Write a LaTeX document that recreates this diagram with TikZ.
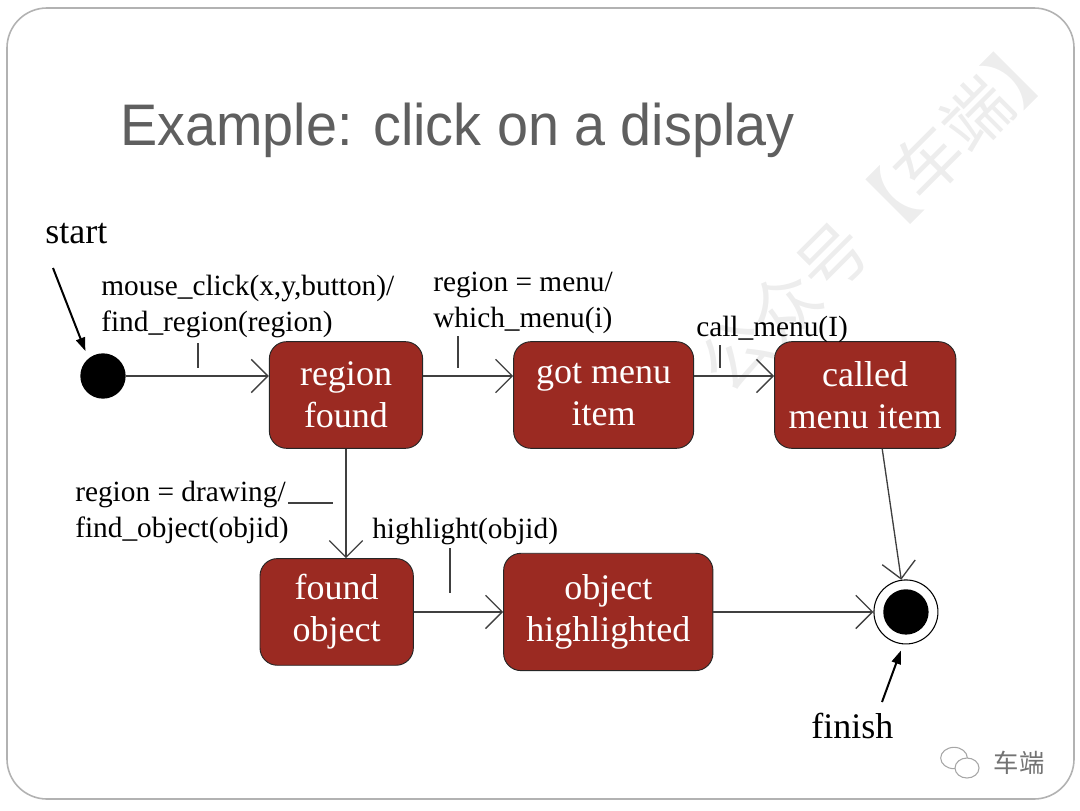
\documentclass[tikz,border=0pt]{standalone}
\usepackage{fontspec}
\setmainfont{Liberation Serif}
\newfontfamily\titlefont[FakeStretch=0.95]{Liberation Sans}
\newfontfamily\cjkfont{Noto Sans CJK SC}
\usetikzlibrary{positioning,arrows.meta}

\definecolor{statered}{HTML}{9B2A22}
\definecolor{titlegray}{HTML}{5F5F5F}
\definecolor{linegray}{HTML}{404040}

\tikzset{
  state/.style={draw=black!85, fill=statered, text=white, rounded corners=13pt,
    minimum height=80pt, inner sep=2pt, align=center, line width=0.7pt,
    font=\fontsize{27}{31.5}\selectfont},
  init/.style={circle, fill=black, minimum size=34pt, inner sep=0pt},
  final/.style={circle, draw=black, fill=white, line width=0.8pt, minimum size=48pt, inner sep=0pt,
    path picture={\fill[black] (path picture bounding box.center) circle (17pt);}},
  trans/.style={draw=linegray, line width=1pt, -{Straight Barb[length=12.5pt,width=25pt]}},
  guard/.style={anchor=base west, align=left, inner sep=0pt, font=\fontsize{22}{27}\selectfont},
  tick/.style={draw=linegray, line width=1pt},
  pointer/.style={draw=black, line width=1.5pt, -{Triangle[length=10pt,width=7pt]}},
  big/.style={anchor=base west, inner sep=0pt, font=\fontsize{27}{27}\selectfont}
}

\begin{document}
\begin{tikzpicture}[x=0.75pt,y=-0.75pt]
\useasboundingbox (0,0) rectangle (1080,810);
\draw[black!30, line width=1.2pt, rounded corners=30pt] (7,8) rectangle (1074,799);
\node[rotate=45, text=black!7, font=\cjkfont\fontsize{51}{51}\selectfont] (wmark) at (880,210) {公众号【车端】};
\node[font=\titlefont\fontsize{44}{44}\selectfont, text=titlegray, anchor=base west, inner sep=0pt] (title) at (120,145) {Example: click on a display};

% states
\node[init] (init) at (103,376) {};
\node[state, minimum width=115pt] (rf) at (346,395) {region\\found};
\node[state, minimum width=135pt, right=67.5pt of rf] (gmi) {got menu\\item};
\node[state, minimum width=136pt, right=60pt of gmi] (cmi) {called\\menu item};
\node[state, minimum width=115pt, below=82pt of rf, xshift=-7pt] (fo) {found\\object};
\node[state, minimum width=157pt, minimum height=88pt, right=67pt of fo] (oh) {object\\highlighted};
\node[final, right=120pt of oh] (fin) {};

% transitions
\draw[trans] (init) -- (init -| rf.west);
\draw[trans] (init -| rf.east) -- (init -| gmi.west);
\draw[trans] (init -| gmi.east) -- (init -| cmi.west);
\draw[trans] (rf.south) -- (rf.south |- fo.north);
\draw[trans] (fo) -- (oh);
\draw[trans] (oh) -- (fin);
\draw[trans] ([xshift=12.75pt]cmi.south) -- (fin);

% guards (base = last line)
\node[guard] (gclick) at (101,331) {mouse\_click(x,y,button)/\\find\_region(region)};
\node[guard] (gmenu) at (433,327) {region = menu/\\which\_menu(i)};
\node[guard] (gcall) at (696,336) {call\_menu(I)};
\node[guard] (gdraw) at (75,537) {region = drawing/\\find\_object(objid)};
\node[guard] (glight) at (372,538) {highlight(objid)};
\draw[tick] (198,343) -- (198,368);
\draw[tick] (458,336) -- (458,368);
\draw[tick] (720,345) -- (720,368);
\draw[tick] (450,548) -- (450,593);
\draw[tick] (288,503) -- (333,503);

% start / finish
\node[big] (startlbl) at (45,243) {start};
\node[big] (finlbl) at (811,738) {finish};
\coordinate (startptr) at (53,268);
\coordinate (finptr) at (882,702);
\draw[pointer, shorten >=6pt] (startptr) -- (init.130);
\draw[pointer, shorten >=5pt] (finptr) -- (fin.265);

% brand mark
\draw[black!35, line width=0.8pt] (954,758) ellipse [x radius=10pt, y radius=8pt];
\draw[black!35, line width=0.8pt, fill=white] (967,768) ellipse [x radius=9pt, y radius=7.5pt];
\node[text=black!55, font=\cjkfont\fontsize{19}{19}\selectfont] (brand) at (1019,763) {车端};
\end{tikzpicture}
\end{document}
